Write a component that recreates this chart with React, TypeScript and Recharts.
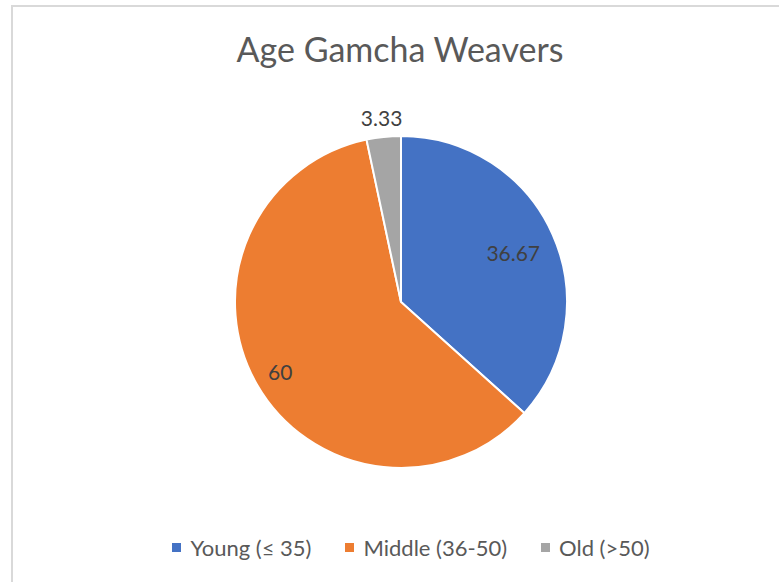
import { Pie, PieChart, Cell } from "recharts";

const categories = ["Young (≤ 35)", "Middle (36-50)", "Old (>50)"];
const shares = [36.67, 60, 3.33];
const colors = ["#4472C4", "#ED7D31", "#A5A5A5"];
const chartTitle = "Age Gamcha Weavers";

const data = categories.map((name, i) => ({ name, value: shares[i] }));

const RAD = Math.PI / 180;
const FONT = "Lato, 'Open Sans', sans-serif";

// label distance from centre, as a share of the radius (small slices go outside)
const labelFactor = [0.74, 0.84, 1.12];

const renderLabel = (props: any) => {
  const { cx, cy, midAngle, outerRadius, value, index } = props;
  const r = outerRadius * labelFactor[index];
  const x = cx + r * Math.cos(-midAngle * RAD);
  const y = cy + r * Math.sin(-midAngle * RAD);
  return (
    <text
      x={x}
      y={y}
      fill="#404040"
      fontSize={21}
      fontFamily={FONT}
      textAnchor="middle"
      dominantBaseline="central"
    >
      {value}
    </text>
  );
};

export default function App() {
  return (
    <div style={{ position: "absolute", left: 0, top: 0, width: 779, height: 582, background: "#fff", overflow: "hidden" }}>
      <div
        style={{
          position: "absolute",
          left: 11,
          top: 5,
          width: 800,
          height: 600,
          border: "2px solid #d9d9d9",
          boxSizing: "border-box",
        }}
      />
      <div
        style={{
          position: "absolute",
          left: 0,
          width: 800,
          top: 28,
          textAlign: "center",
          fontFamily: FONT,
          fontSize: 34,
          color: "#595959",
        }}
      >
        {chartTitle}
      </div>
      <div style={{ position: "absolute", left: 0, top: 0 }}>
        <PieChart width={779} height={582} margin={{ top: 0, right: 0, bottom: 0, left: 0 }}>
          <Pie
            data={data}
            dataKey="value"
            nameKey="name"
            cx={401}
            cy={302}
            outerRadius={166}
            startAngle={90}
            endAngle={-270}
            stroke="#fff"
            strokeWidth={2}
            label={renderLabel}
            labelLine={false}
            isAnimationActive={false}
          >
            {data.map((d, i) => (
              <Cell key={d.name} fill={colors[i]} />
            ))}
          </Pie>
        </PieChart>
      </div>
      <div
        style={{
          position: "absolute",
          left: 11,
          width: 800,
          top: 534,
          display: "flex",
          justifyContent: "center",
          gap: 34,
          fontFamily: FONT,
          fontSize: 22,
          color: "#595959",
        }}
      >
        {categories.map((c, i) => (
          <div key={c} style={{ display: "flex", alignItems: "center", gap: 9 }}>
            <span style={{ width: 9, height: 9, background: colors[i], display: "inline-block" }} />
            <span>{c}</span>
          </div>
        ))}
      </div>
    </div>
  );
}
